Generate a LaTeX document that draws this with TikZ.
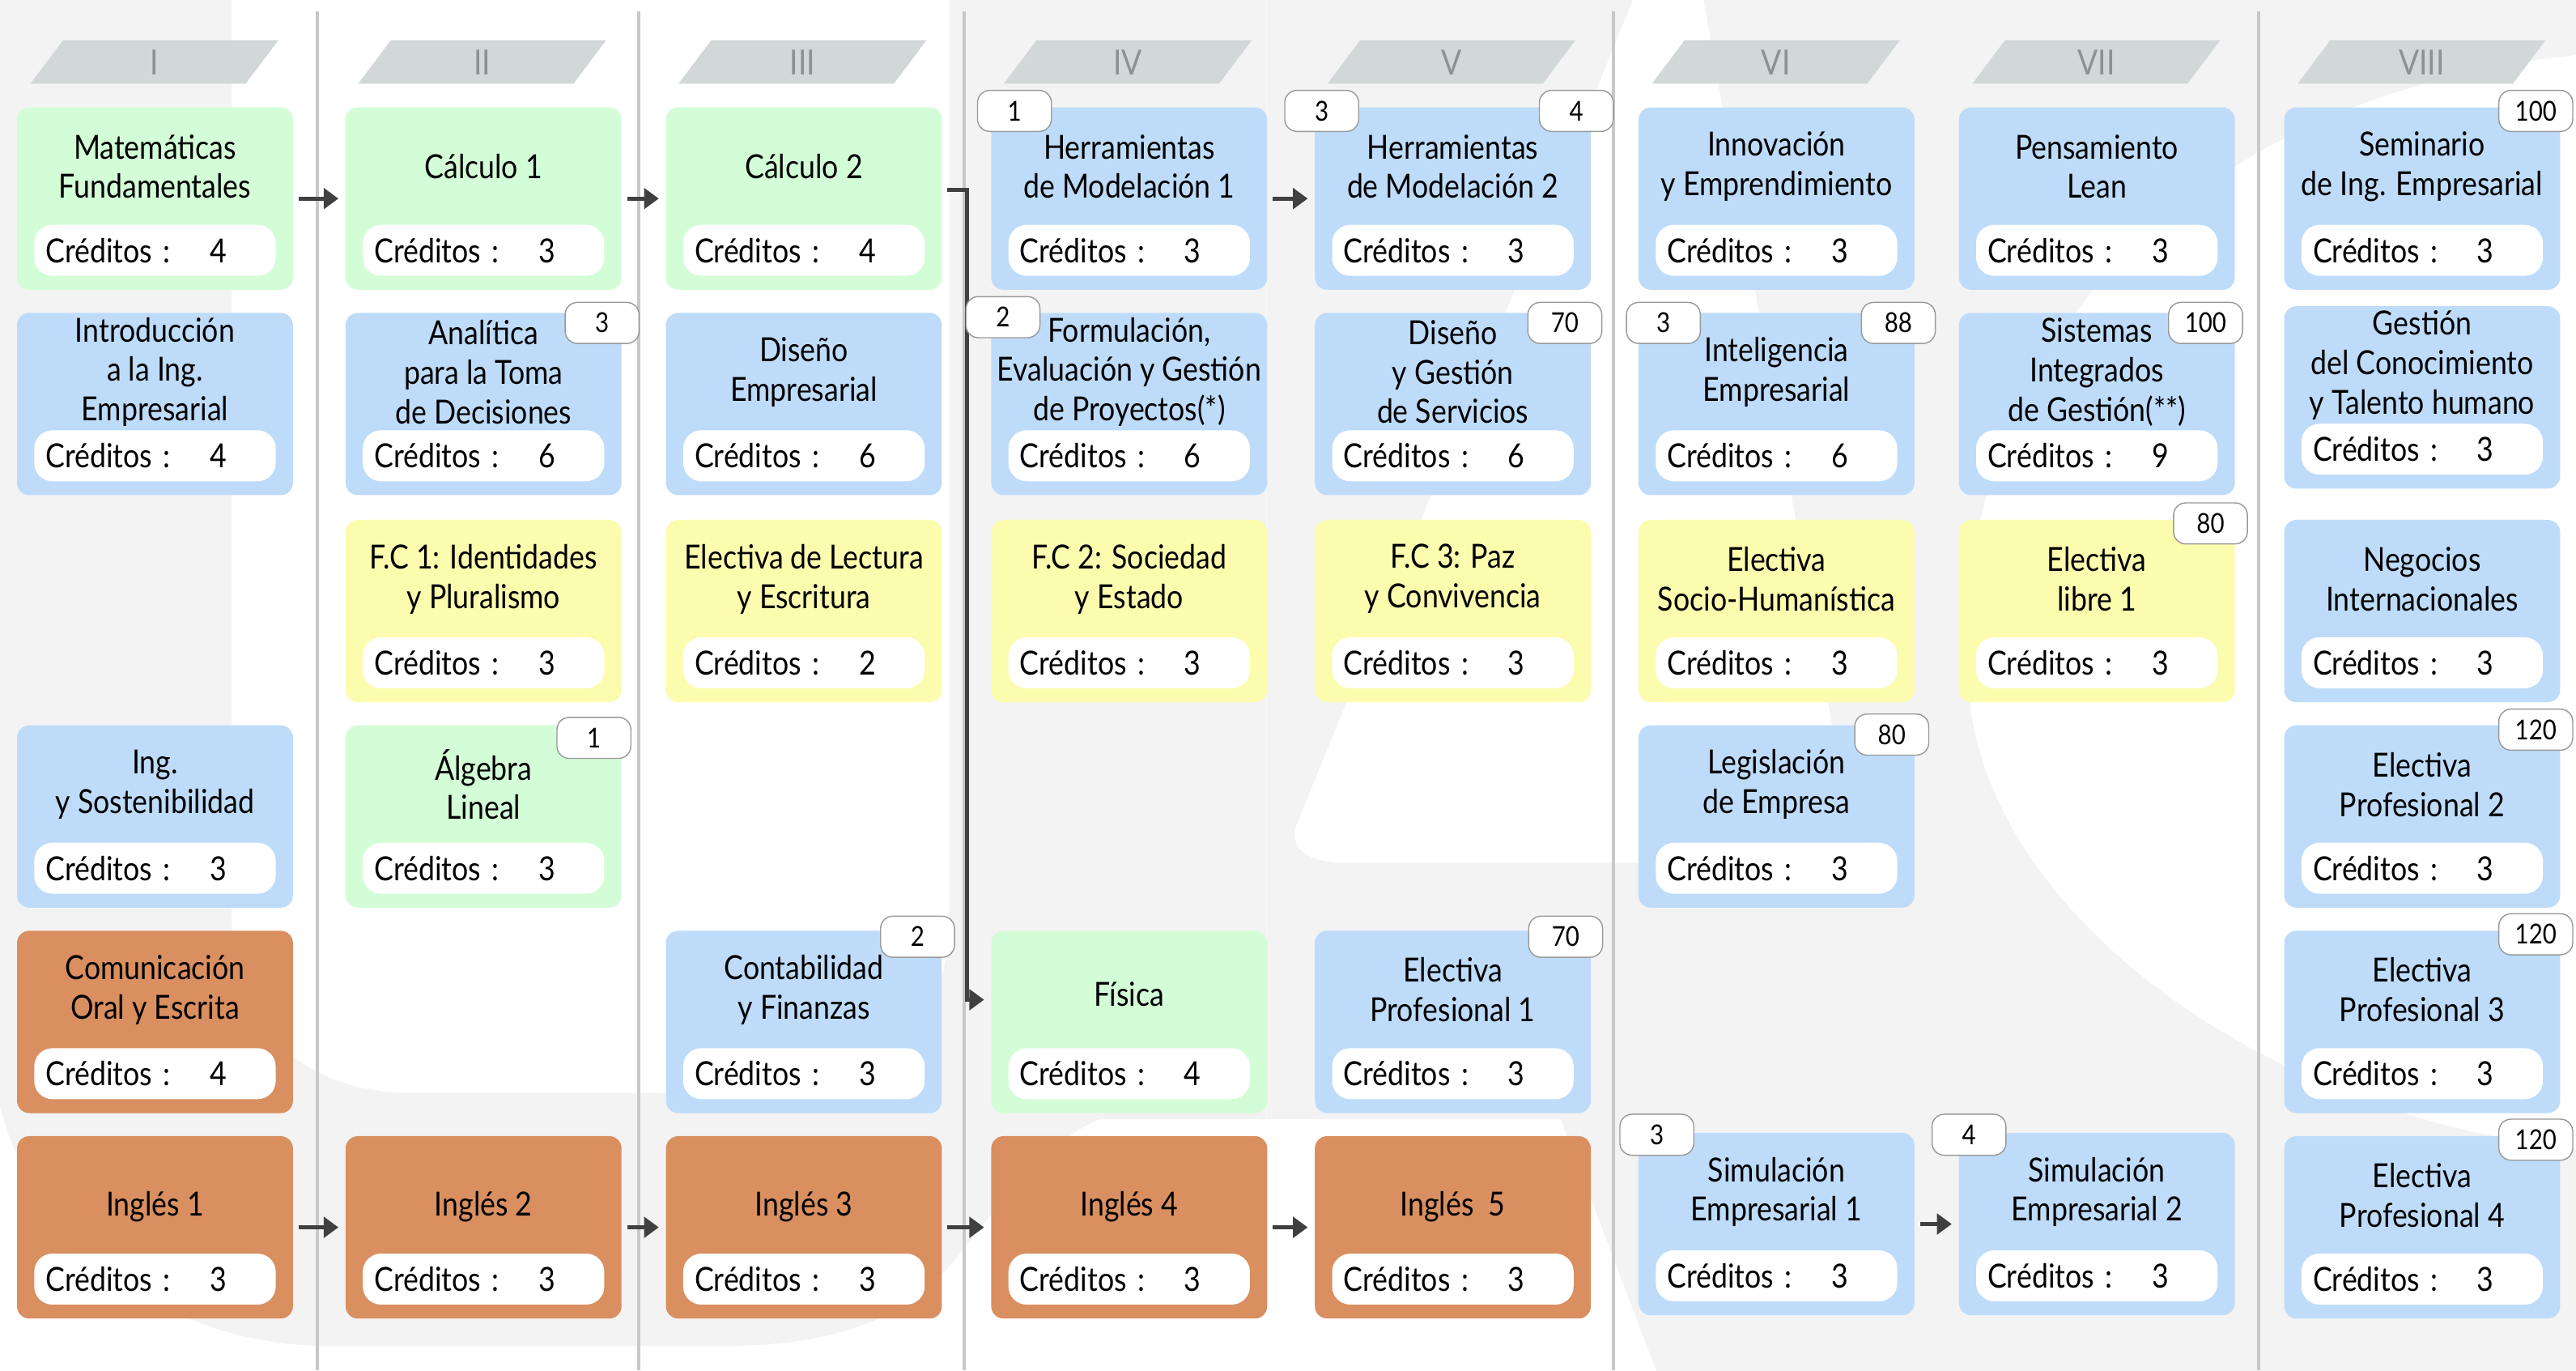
\documentclass[tikz,border=0pt]{standalone}
\usepackage{fontspec}
\setmainfont[FakeStretch=0.87]{Lato}
\usetikzlibrary{arrows.meta,positioning}

\definecolor{verde}{RGB}{211,253,214}
\definecolor{azul}{RGB}{190,220,250}
\definecolor{amarillo}{RGB}{252,252,175}
\definecolor{naranja}{RGB}{217,143,96}
\definecolor{cabgris}{RGB}{210,215,215}
\definecolor{cabtexto}{RGB}{140,145,145}
\definecolor{divisor}{RGB}{200,200,200}
\definecolor{oscuro}{RGB}{64,64,64}
\definecolor{marca}{RGB}{243,243,243}

\tikzset{
  caja/.style={anchor=north west, minimum width=3.36cm, minimum height=2.22cm,
    rounded corners=0.15cm, inner sep=0},
  titulo/.style={align=center, inner sep=0, font=\fontsize{11.5}{13.7}\selectfont},
  creditos/.style={fill=white, rounded corners=0.22cm, minimum height=0.62cm,
    text width=2.66cm, inner xsep=0.14cm, inner ysep=0, align=left,
    font=\fontsize{11.5}{13.7}\selectfont},
  insignia/.style={fill=white, draw=gray!80, line width=0.4pt, rounded corners=0.15cm,
    minimum width=0.9cm, minimum height=0.5cm, inner sep=0,
    font=\fontsize{9.5}{11}\selectfont},
  semestre/.style={text=cabtexto, inner sep=0, font=\fontsize{12}{14}\selectfont},
  cabecera/.style={fill=cabgris},
  fondo/.style={fill=marca},
  flecha/.style={draw=oscuro, line width=1.4pt, -{Triangle[length=0.18cm,width=0.25cm]},
    shorten >=0.08cm, shorten <=0.06cm},
  linea/.style={draw=divisor, line width=1.1pt}
}

% caja de asignatura: [desplazamiento del titulo] nombre, x, y (esquina sup. izq.), color, titulo, creditos
\newcommand{\curso}[7][0.39cm]{%
  \node[caja, fill=#5] (#2) at (#3,#4) {};
  \node[titulo] (#2t) at ([yshift=#1]#2.center) {#6};
  \node[creditos] (#2c) at ([yshift=-0.63cm]#2.center) {\makebox[2.0cm][l]{Créditos :}#7};
}

\begin{document}
\begin{tikzpicture}[x=0.02cm, y=-0.02cm]
    \useasboundingbox (0,0) rectangle (1568,834);
    \fill[white] (0,0) rectangle (1568,834);

    % marca de agua del fondo
    \fill[fondo, even odd rule] (-5,-5) -- (771,-5) -- (771,681) -- (669,681)
        .. controls (625,700) and (595,755) .. (567,782)
        .. controls (535,810) and (490,819) .. (440,819) -- (200,819)
        .. controls (90,819) and (-5,740) .. (-5,630) -- cycle
        (141,-20) -- (578,-20) -- (578,555) .. controls (578,625) and (540,665) .. (470,665)
        -- (250,665) .. controls (185,665) and (141,625) .. (141,555) -- cycle;
    \fill[fondo] (771,-5) rectangle (1573,681);
    \fill[fondo] (950,681) -- (1573,681) -- (1573,839) -- (1010,839) -- cycle;
    \fill[white] (996,-5) -- (1036,-5) -- (1130,525) -- (818,525)
        .. controls (795,525) and (783,515) .. (790,500) -- cycle;
    \fill[white] (1573,33) .. controls (1300,60) and (1180,250) .. (1199,428)
        .. controls (1215,560) and (1380,680) .. (1573,700) -- cycle;

    % lineas entre semestres
    \draw[linea] (193,7) -- (193,834);
    \draw[linea] (389,7) -- (389,834);
    \draw[linea] (587,7) -- (587,834);
    \draw[linea] (982,7) -- (982,834);
    \draw[linea] (1375,7) -- (1375,834);

    % semestres
    \fill[cabecera] (18.5,51) -- ++(131,0) -- ++(20,-26.6) -- ++(-131,0) -- cycle;
    \fill[cabecera] (218,51) -- ++(131,0) -- ++(20,-26.6) -- ++(-131,0) -- cycle;
    \fill[cabecera] (413,51) -- ++(131,0) -- ++(20,-26.6) -- ++(-131,0) -- cycle;
    \fill[cabecera] (611,51) -- ++(131,0) -- ++(20,-26.6) -- ++(-131,0) -- cycle;
    \fill[cabecera] (808,51) -- ++(131,0) -- ++(20,-26.6) -- ++(-131,0) -- cycle;
    \fill[cabecera] (1005.5,51) -- ++(131,0) -- ++(20,-26.6) -- ++(-131,0) -- cycle;
    \fill[cabecera] (1200.5,51) -- ++(131,0) -- ++(20,-26.6) -- ++(-131,0) -- cycle;
    \fill[cabecera] (1398.5,51) -- ++(131,0) -- ++(20,-26.6) -- ++(-131,0) -- cycle;
    \node[semestre] (s1) at (94,38) {I};
    \node[semestre] (s2) at (293.5,38) {II};
    \node[semestre] (s3) at (488.5,38) {III};
    \node[semestre] (s4) at (686.5,38) {IV};
    \node[semestre] (s5) at (883.5,38) {V};
    \node[semestre] (s6) at (1081,38) {VI};
    \node[semestre] (s7) at (1276,38) {VII};
    \node[semestre] (s8) at (1474,38) {VIII};

    % I
    \curso{matfund}{10}{65}{verde}{Matemáticas\\Fundamentales}{4}
    \curso{intro}{10}{190}{azul}{Introducción\\a la Ing.\\Empresarial}{4}
    \curso{sosten}{10}{441}{azul}{Ing.\\y Sostenibilidad}{3}
    \curso{comunic}{10}{566}{naranja}{Comunicación\\Oral y Escrita}{4}
    \curso[0.25cm]{ingles1}{10}{691}{naranja}{Inglés 1}{3}

    % II
    \curso{calculo1}{210}{65}{verde}{Cálculo 1}{3}
    \curso{analitica}{210}{190}{azul}{Analítica\\para la Toma\\de Decisiones}{6}
    \curso{fc1}{210}{316}{amarillo}{F.C 1: Identidades\\y Pluralismo}{3}
    \curso{algebra}{210}{441}{verde}{Álgebra\\Lineal}{3}
    \curso[0.25cm]{ingles2}{210}{691}{naranja}{Inglés 2}{3}

    % III
    \curso{calculo2}{405}{65}{verde}{Cálculo 2}{4}
    \curso{disenoemp}{405}{190}{azul}{Diseño\\Empresarial}{6}
    \curso{lectura}{405}{316}{amarillo}{Electiva de Lectura\\y Escritura}{2}
    \curso{contab}{405}{566}{azul}{Contabilidad\\y Finanzas}{3}
    \curso[0.25cm]{ingles3}{405}{691}{naranja}{Inglés 3}{3}

    % IV
    \curso{herram1}{603}{65}{azul}{Herramientas\\de Modelación 1}{3}
    \curso{formul}{603}{190}{azul}{Formulación,\\Evaluación y Gestión\\de Proyectos(*)}{6}
    \curso{fc2}{603}{316}{amarillo}{F.C 2: Sociedad\\y Estado}{3}
    \curso[0.34cm]{fisica}{603}{566}{verde}{Física}{4}
    \curso[0.25cm]{ingles4}{603}{691}{naranja}{Inglés 4}{3}

    % V
    \curso{herram2}{800}{65}{azul}{Herramientas\\de Modelación 2}{3}
    \curso{disenoserv}{800}{190}{azul}{Diseño\\y Gestión\\de Servicios}{6}
    \curso{fc3}{800}{316}{amarillo}{F.C 3: Paz\\y Convivencia}{3}
    \curso{electprof1}{800}{566}{azul}{Electiva\\Profesional 1}{3}
    \curso[0.25cm]{ingles5}{800}{691}{naranja}{Inglés\ \ 5}{3}

    % VI
    \curso{innova}{997}{65}{azul}{Innovación\\y Emprendimiento}{3}
    \curso{intelig}{997}{190}{azul}{Inteligencia\\Empresarial}{6}
    \curso{socioh}{997}{316}{amarillo}{Electiva\\Socio-Humanística}{3}
    \curso{legis}{997}{441}{azul}{Legislación\\de Empresa}{3}
    \curso{simul1}{997}{689}{azul}{Simulación\\Empresarial 1}{3}

    % VII
    \curso{lean}{1192}{65}{azul}{Pensamiento\\Lean}{3}
    \curso{sistemas}{1192}{190}{azul}{Sistemas\\Integrados\\de Gestión(**)}{9}
    \curso{libre1}{1192}{316}{amarillo}{Electiva\\libre 1}{3}
    \curso{simul2}{1192}{689}{azul}{Simulación\\Empresarial 2}{3}

    % VIII
    \curso{seminario}{1390}{65}{azul}{Seminario\\de Ing. Empresarial}{3}
    \curso{gestcon}{1390}{186}{azul}{Gestión\\del Conocimiento\\y Talento humano}{3}
    \curso{negocios}{1390}{316}{azul}{Negocios\\Internacionales}{3}
    \curso{electprof2}{1390}{441}{azul}{Electiva\\Profesional 2}{3}
    \curso{electprof3}{1390}{566}{azul}{Electiva\\Profesional 3}{3}
    \curso{electprof4}{1390}{691}{azul}{Electiva\\Profesional 4}{3}

    % prerrequisitos
    \draw[flecha] (matfund) -- (calculo1);
    \draw[flecha] (calculo1) -- (calculo2);
    \draw[flecha] ([yshift=0.11cm]calculo2.east) -- ++(15,0) |- ([yshift=0.27cm]fisica.west);
    \draw[flecha] (herram1) -- (herram2);
    \draw[flecha] (ingles1) -- (ingles2);
    \draw[flecha] (ingles2) -- (ingles3);
    \draw[flecha] (ingles3) -- (ingles4);
    \draw[flecha] (ingles4) -- (ingles5);
    \draw[flecha] (simul1) -- (simul2);

    % requisitos de creditos / semestre
    \node[insignia] (b-analitica) at (366.5,196.5) {3};
    \node[insignia] (b-algebra) at (361.5,449) {1};
    \node[insignia] (b-contab) at (558.5,570) {2};
    \node[insignia] (b-herram1) at (617.5,67.5) {1};
    \node[insignia] (b-formul) at (610.5,193) {2};
    \node[insignia] (b-herram2a) at (804.5,67.5) {3};
    \node[insignia] (b-herram2b) at (959.5,67.5) {4};
    \node[insignia] (b-disenoserv) at (952.5,196.5) {70};
    \node[insignia] (b-electprof1) at (953,570) {70};
    \node[insignia] (b-inteliga) at (1012.5,196.5) {3};
    \node[insignia] (b-inteligb) at (1155.5,196.5) {88};
    \node[insignia] (b-legis) at (1151.5,447) {80};
    \node[insignia] (b-simul1) at (1008.5,690.5) {3};
    \node[insignia] (b-simul2) at (1198.5,690.5) {4};
    \node[insignia] (b-sistemas) at (1342.5,196.5) {100};
    \node[insignia] (b-libre1) at (1345.5,318.5) {80};
    \node[insignia] (b-seminario) at (1543.5,67.5) {100};
    \node[insignia] (b-electprof2) at (1543.5,444) {120};
    \node[insignia] (b-electprof3) at (1543.5,568.5) {120};
    \node[insignia] (b-electprof4) at (1543.5,693.5) {120};
\end{tikzpicture}
\end{document}
